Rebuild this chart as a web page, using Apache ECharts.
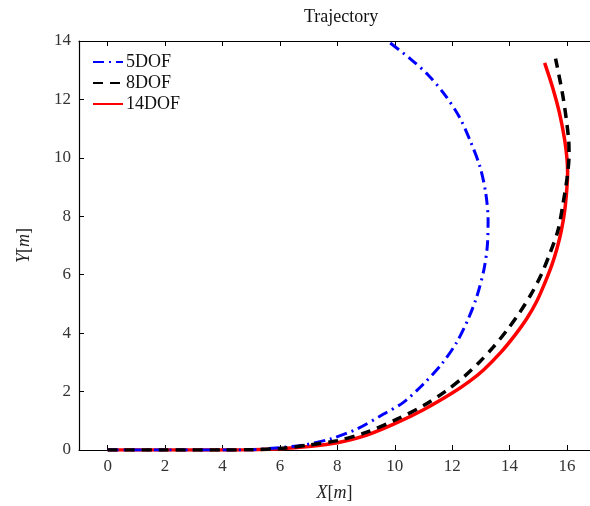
<html lang="en">
<head>
  <meta charset="utf-8"/>
  <script src="https://cdn.jsdelivr.net/npm/echarts@6/dist/echarts.min.js"></script>
  <style>
    html, body { margin: 0; padding: 0; background: #fff; }
    #chart { width: 590px; height: 506px; }
  </style>
</head>
<body>
<div id="chart"></div>
<script>
  // data: [x, y] in metres
  var seriesNames = ['5DOF', '8DOF', '14DOF'];
  var xTicks = [0, 2, 4, 6, 8, 10, 12, 14, 16];

  var dof5 = [[0, 0], [2, 0], [4, 0], [5, 0.01], [6, 0.08], [6.83, 0.17], [7.76, 0.38], [8.68, 0.72],
    [9.61, 1.23], [10.3, 1.63], [11.0, 2.26], [11.64, 2.95], [12.16, 3.69], [12.56, 4.49], [12.85, 5.23],
    [13.1, 6.15], [13.22, 6.95], [13.25, 7.86], [13.17, 8.78], [12.97, 9.69], [12.62, 10.6], [12.25, 11.4],
    [11.75, 12.15], [11.17, 12.83], [10.53, 13.4], [9.75, 14.0]];

  var dof8 = [[0, 0], [2, 0], [4, 0], [5, 0.01], [6, 0.05], [7, 0.17], [8, 0.32], [9, 0.6], [10, 1.02],
    [11, 1.52], [11.75, 2.0], [12.4, 2.5], [12.97, 3.03], [13.43, 3.52], [13.9, 4.09], [14.36, 4.72],
    [14.76, 5.35], [15.1, 6.0], [15.4, 6.72], [15.69, 7.54], [15.86, 8.43], [16.0, 9.3], [16.07, 10.1],
    [16.05, 10.7], [15.86, 12.09], [15.6, 13.4]];

  var dof14 = [[0, 0], [2, 0], [4, 0], [5, 0.01], [6, 0.04], [7, 0.12], [8, 0.25], [9, 0.5], [10, 0.9],
    [11, 1.38], [12, 1.95], [12.6, 2.35], [13.1, 2.75], [13.7, 3.35], [14.2, 3.95], [14.6, 4.5],
    [14.95, 5.1], [15.22, 5.7], [15.46, 6.3], [15.65, 6.9], [15.8, 7.5], [15.92, 8.2], [15.99, 8.9],
    [16.02, 9.5], [16.0, 9.95], [15.92, 10.6], [15.74, 11.52], [15.5, 12.4], [15.22, 13.25]];

  var serif = '"Liberation Serif", "DejaVu Serif", serif';
  var chart = echarts.init(document.getElementById('chart'));

  var option = {
    animation: false,
    title: {
      text: 'Trajectory',
      left: 299,
      top: 3,
      textStyle: { fontFamily: serif, fontSize: 18, fontWeight: 'normal', color: '#111' }
    },
    legend: {
      orient: 'vertical',
      left: 87,
      top: 48,
      itemWidth: 30,
      itemHeight: 14,
      itemGap: 3,
      data: seriesNames,
      itemStyle: { opacity: 0 },
      textStyle: { fontFamily: serif, fontSize: 18, color: '#111', padding: [0, 0, 0, -2] }
    },
    grid: { left: 79, right: 0, top: 41, bottom: 56, outerBoundsMode: 'none' },
    xAxis: [
      {
        type: 'value',
        min: -1,
        max: 16.8,
        name: '{i|X}[{i|m}]',
        nameLocation: 'middle',
        nameGap: 34,
        nameMoveOverlap: false,
        nameTextStyle: {
          fontFamily: serif, fontSize: 18, color: '#222',
          rich: { i: { fontFamily: serif, fontSize: 18, fontStyle: 'italic', color: '#222' } }
        },
        axisLine: { onZero: false, lineStyle: { color: '#000', width: 1.2 } },
        axisTick: { inside: true, length: 5, customValues: xTicks, lineStyle: { color: '#000' } },
        axisLabel: { customValues: xTicks, margin: 8, fontFamily: serif, fontSize: 17, color: '#333' },
        splitLine: { show: false }
      },
      {
        type: 'value',
        position: 'top',
        min: -1,
        max: 16.8,
        axisLine: { show: true, onZero: false, lineStyle: { color: '#000', width: 1.2 } },
        axisTick: { inside: true, length: 5, customValues: xTicks, lineStyle: { color: '#000' } },
        axisLabel: { show: false },
        splitLine: { show: false }
      }
    ],
    yAxis: {
      type: 'value',
      min: 0,
      max: 14,
      interval: 2,
      name: '{i|Y}[{i|m}]',
      nameLocation: 'middle',
      nameGap: 46,
      nameMoveOverlap: false,
      nameTextStyle: {
        fontFamily: serif, fontSize: 18, color: '#222',
        rich: { i: { fontFamily: serif, fontSize: 18, fontStyle: 'italic', color: '#222' } }
      },
      axisLine: { show: true, onZero: false, lineStyle: { color: '#000', width: 1.2 } },
      axisTick: { show: true, inside: true, length: 5, lineStyle: { color: '#000' } },
      axisLabel: { margin: 8, fontFamily: serif, fontSize: 17, color: '#333' },
      splitLine: { show: false }
    },
    series: [
      {
        name: seriesNames[0],
        type: 'line',
        data: dof5,
        showSymbol: false,
        symbol: 'none',
        smooth: 0.3,
        lineStyle: { color: '#0000ff', width: 3, type: [11, 5, 2, 5] },
        itemStyle: { color: '#0000ff' },
        z: 3
      },
      {
        name: seriesNames[1],
        type: 'line',
        data: dof8,
        showSymbol: false,
        symbol: 'none',
        smooth: 0.3,
        lineStyle: { color: '#000', width: 3.5, type: [10, 7] },
        itemStyle: { color: '#000' },
        z: 3
      },
      {
        name: seriesNames[2],
        type: 'line',
        data: dof14,
        showSymbol: false,
        symbol: 'none',
        smooth: 0.3,
        lineStyle: { color: '#ff0000', width: 3.5 },
        itemStyle: { color: '#ff0000' },
        z: 2
      }
    ]
  };
  chart.setOption(option);
</script>
</body>
</html>
